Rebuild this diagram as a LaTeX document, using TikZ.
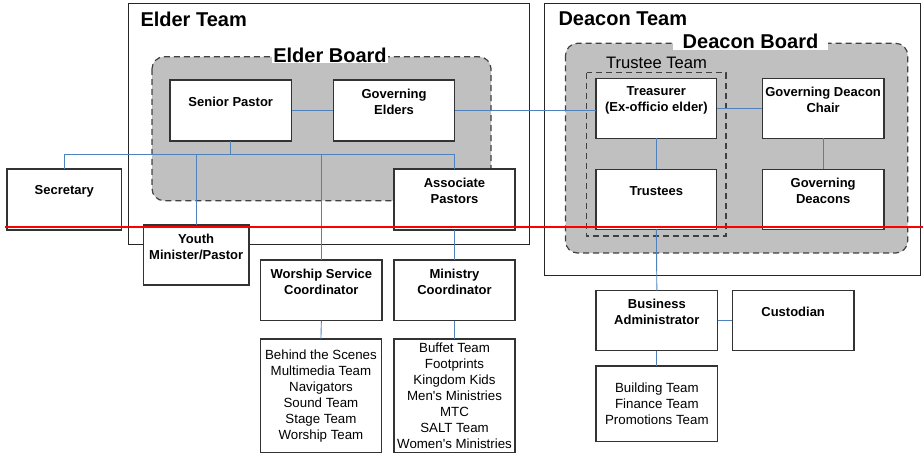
\documentclass[tikz,border=0pt]{standalone}
\usepackage{fontspec}
\setmainfont{Liberation Sans}
\definecolor{connblue}{RGB}{79,129,189}
\definecolor{boardgray}{RGB}{192,192,192}
\definecolor{edgegray}{RGB}{51,51,51}
\definecolor{dashgray}{RGB}{64,64,64}
\begin{document}
\begin{tikzpicture}[x=1pt,y=-1pt,
  box/.style={draw=edgegray, line width=1.3pt, fill=white, anchor=north west, inner sep=0pt, outer sep=0pt},
  btxt/.style={font=\fontsize{13}{16}\selectfont\bfseries, align=center, inner sep=0pt},
  ltxt/.style={font=\fontsize{13.3}{16}\selectfont, align=center},
  connector/.style={draw=connblue, line width=0.9pt},
  teamframe/.style={draw=black!85, line width=1pt},
  board/.style={draw=dashgray, dash pattern=on 6pt off 4pt, line width=1.2pt, fill=boardgray, rounded corners=12pt},
  ttitle/.style={font=\fontsize{20}{24}\selectfont\bfseries, inner sep=0pt},
  redline/.style={draw=red, line width=2pt},
]
\useasboundingbox (0,0) rectangle (923,455);

% team frames
\draw[teamframe] (128,3.5) rectangle (529.5,244.7);
\draw[teamframe] (544.5,3.5) rectangle (920,275);
\node[ttitle, anchor=west] (eltitle) at (140.3,19.3) {Elder Team};
\node[ttitle, anchor=west] (dctitle) at (558.3,18.3) {Deacon Team};

% boards
\draw[board] (152,56.8) rectangle (491,200.7);
\draw[board] (565.5,43.3) rectangle (907.7,253);
\draw[draw=dashgray, dash pattern=on 6pt off 4pt, line width=1.2pt] (586.7,72.7) rectangle (726,236);
\node[ttitle, fill=white, inner xsep=1pt, inner ysep=0.8pt] (ebtitle) at (330,55) {Elder Board};
\node[ttitle, fill=white, inner xsep=10pt, inner ysep=1pt] (dbtitle) at (750.5,41.5) {Deacon Board};
\node[font=\fontsize{16.6}{20}\selectfont, inner sep=0pt] (tttitle) at (656.5,63.3) {Trustee Team};

% elder side boxes
\node[box, minimum width=121.5pt, minimum height=61pt] (sp) at (170,80) {};
\node[btxt] (spt) at ([yshift=-21.7pt]sp.north) {Senior Pastor};
\node[box, minimum width=121.4pt, minimum height=61pt] (ge) at (333.4,80) {};
\node[btxt] (get) at ([yshift=-22pt]ge.north) {Governing\\Elders};
\node[box, minimum width=114.7pt, minimum height=61pt] (sec) at (7,169) {};
\node[btxt] (sect) at ([yshift=-22.7pt]sec.north) {Secretary};
\node[box, minimum width=121pt, minimum height=61pt] (asp) at (394,169) {};
\node[btxt] (aspt) at ([yshift=-22pt]asp.north) {Associate\\Pastors};
\node[box, minimum width=105.7pt, minimum height=60pt] (yth) at (143.3,225) {};
\node[btxt] (ytht) at ([yshift=-21.7pt]yth.north) {Youth\\Minister/Pastor};
\node[box, minimum width=121.3pt, minimum height=60.7pt] (wsc) at (260.7,260) {};
\node[btxt] (wsct) at ([yshift=-22.3pt]wsc.north) {Worship Service\\Coordinator};
\node[box, minimum width=121pt, minimum height=60.7pt] (mc) at (394,260) {};
\node[btxt] (mct) at ([yshift=-22.3pt]mc.north) {Ministry\\Coordinator};
\node[box, ltxt, minimum width=120.5pt, minimum height=113.7pt] (wsl) at (260.7,339) {Behind the Scenes\\Multimedia Team\\Navigators\\Sound Team\\Stage Team\\Worship Team};
\node[box, ltxt, minimum width=121pt, minimum height=113.7pt] (mcl) at (394,339) {Buffet Team\\Footprints\\Kingdom Kids\\Men\textquotesingle s Ministries\\MTC\\SALT Team\\Women\textquotesingle s Ministries};

% deacon side boxes
\node[box, minimum width=120.7pt, minimum height=60pt] (tr) at (596,78.3) {};
\node[btxt] (trt) at ([yshift=-21.7pt]tr.north) {Treasurer\\(Ex-officio elder)};
\node[box, minimum width=121.7pt, minimum height=60pt] (gdc) at (762.3,78.3) {};
\node[btxt] (gdct) at ([yshift=-21.7pt]gdc.north) {Governing Deacon\\Chair};
\node[box, minimum width=120.7pt, minimum height=60pt] (ts) at (596,169.3) {};
\node[btxt] (tst) at ([yshift=-21.5pt]ts.north) {Trustees};
\node[box, minimum width=121.7pt, minimum height=60pt] (gd) at (762.3,169.3) {};
\node[btxt] (gdt) at ([yshift=-21.7pt]gd.north) {Governing\\Deacons};
\node[box, minimum width=121.7pt, minimum height=60pt] (ba) at (596,290.7) {};
\node[btxt] (bat) at ([yshift=-21.5pt]ba.north) {Business\\Administrator};
\node[box, minimum width=121.7pt, minimum height=60pt] (cu) at (732.3,290.7) {};
\node[btxt] (cut) at ([yshift=-21pt]cu.north) {Custodian};
\node[box, ltxt, minimum width=121.7pt, minimum height=75.3pt] (btl) at (596,366) {Building Team\\Finance Team\\Promotions Team};

% connectors
\coordinate (busy) at (0,154.7);
\draw[connector] (sp.east) -- (ge.east -| sp.east) -- (ge.west);
\draw[connector] (ge.east) -- (ge.east -| tr.west);
\draw[connector] (tr.east) -- (gdc.west);
\draw[connector] (tr.south) -- (ts.north);
\draw[connector] (gdc.south) -- (gd.north);
\draw[connector] (ts.south) -- (ba.north);
\draw[connector] (ba.east) -- (cu.west);
\draw[connector] (ba.south) -- (btl.north);
\draw[connector] (sp.south) -- (sp.south |- busy);
\draw[connector] (sec.north) -- (sec.north |- busy) -- (asp.north |- busy) -- (asp.north);
\draw[connector] (yth.north) -- (yth.north |- busy);
\draw[connector] (wsc.north) -- (wsc.north |- busy);
\draw[connector] (asp.south) -- (mc.north);
\draw[connector] (wsc.south) -- (wsl.north);
\draw[connector] (mc.south) -- (mcl.north);

% red marker line
\coordinate (redL) at (5,227.3);
\coordinate (redR) at (923,227.3);
\draw[redline] (redL) -- (redR);
\end{tikzpicture}
\end{document}
